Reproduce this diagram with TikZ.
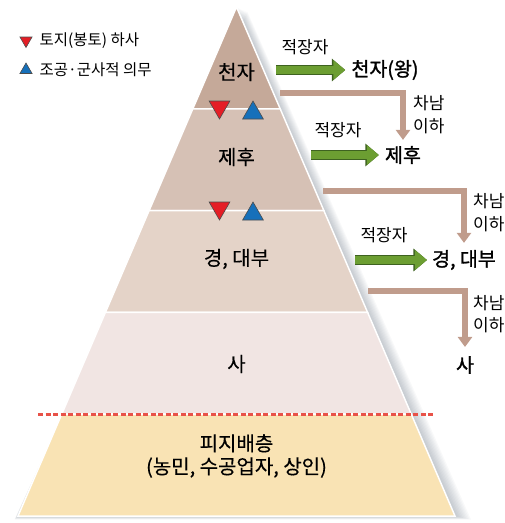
\documentclass[tikz,border=0pt]{standalone}
\usepackage{fontspec}
\setmainfont{Noto Sans CJK KR}
\newfontfamily\krmedium{Noto Sans CJK KR}[FakeBold=0.3]
\newfontfamily\krsemibold{Noto Sans CJK KR}[FakeBold=1.4]
\usetikzlibrary{arrows.meta, calc, positioning, shapes.geometric}

\definecolor{toplayer}{RGB}{197,169,153}
\definecolor{lordlayer}{RGB}{214,193,181}
\definecolor{daebulayer}{RGB}{228,211,200}
\definecolor{salayer}{RGB}{241,229,227}
\definecolor{commonlayer}{RGB}{249,227,180}
\definecolor{heirgreen}{RGB}{108,158,50}
\definecolor{heirdark}{RGB}{62,98,32}
\definecolor{sonbrown}{RGB}{192,156,140}
\definecolor{landred}{RGB}{228,30,38}
\definecolor{dutyblue}{RGB}{22,112,186}
\definecolor{borderred}{RGB}{232,82,72}
\definecolor{shadowgray}{RGB}{80,95,112}

\tikzset{
  every node/.style={inner sep=1pt},
  layer/.style={font=\krmedium\fontsize{20}{23}\selectfont},
  rank/.style={font=\krsemibold\fontsize{19.5}{22}\selectfont},
  heir/.style={font=\fontsize{17}{20}\selectfont},
  sons/.style={font=\fontsize{17}{22.5}\selectfont, align=left, anchor=west},
  legend/.style={font=\fontsize{15.5}{18}\selectfont},
  landmark/.style={regular polygon, regular polygon sides=3, shape border rotate=180,
    fill=landred, draw=black!70, line width=0.6pt, inner sep=0pt, minimum size=24pt},
  dutymark/.style={regular polygon, regular polygon sides=3,
    fill=dutyblue, draw=black!70, line width=0.6pt, inner sep=0pt, minimum size=24pt},
  heirarrow/.style={draw=heirgreen, line width=8pt, -{Triangle[length=12pt,width=19pt]},
    preaction={draw=heirdark, line width=10pt, -{Triangle[length=13.5pt,width=22pt]}}},
  sonarrow/.style={draw=sonbrown, line width=5.5pt, -{Triangle[length=10pt,width=14pt]}}
}

\begin{document}
\begin{tikzpicture}[x=1pt, y=-1pt]
\useasboundingbox (0,0) rectangle (505,523);

% shadow of the pyramid
\foreach \i in {1,...,10}
  \fill[shadowgray, opacity=0.04] ({236.5+\i*1.1},{7+\i*0.5}) -- ({455+\i*1.6},{516+\i*0.35})
    -- ({18-\i*0.35},{516+\i*0.35}) -- cycle;

% layers
\coordinate (apex) at (236.5,7);
\coordinate (bl) at (18,516);
\coordinate (br) at (455,516);
\foreach \t/\c in {0/toplayer,0.2/lordlayer,0.4/daebulayer,0.6/salayer,0.8/commonlayer}
  \fill[\c, draw=white, line width=1.5pt] ($(apex)!\t!(bl)$) -- ($(apex)!\t+0.2!(bl)$)
    -- ($(apex)!\t+0.2!(br)$) -- ($(apex)!\t!(br)$) -- cycle;

\coordinate (d1) at (38,414);
\coordinate (d2) at (435,414);
\draw[borderred, line width=3pt, dash pattern=on 5pt off 2.5pt] (d1) -- (d2);

\node[layer] (cheonja) at (236.5,72) {천자};
\node[layer] (jehu) at (236.5,157) {제후};
\node[layer] (daebu) at (236.5,259) {경, 대부};
\node[layer] (sa) at (236.5,364) {사};
\node[layer, align=center] (piji) at (236.5,456) {피지배층\\(농민, 수공업자, 상인)};

% obligations
\node[landmark] (land1) at (219.5,107) {};
\node[dutymark] (duty1) at (253,113) {};
\node[landmark] (land2) at (219.5,208) {};
\node[dutymark] (duty2) at (253,214) {};

% legend
\node[landmark, minimum size=14pt] (lgland) at (26,40.5) {};
\node[legend, anchor=west, right=8pt of lgland] (lgtext1) {토지(봉토) 하사};
\node[dutymark, minimum size=14pt] (lgduty) at (26,70) {};
\node[legend, anchor=west, right=8pt of lgduty] (lgtext2) {조공·군사적 의무};

% succession
\node[heir] (heir1) at (305,47) {적장자};
\node[rank] (wang) at (385,70) {천자(왕)};
\coordinate (g1) at (276,70);
\draw[heirarrow, shorten >=5pt] (g1) -- (wang.west);

\node[heir] (heir2) at (338,130) {적장자};
\node[rank] (jehuR) at (403,155) {제후};
\coordinate (g2) at (311,155);
\draw[heirarrow, shorten >=5pt] (g2) -- (jehuR.west);

\node[heir] (heir3) at (384,235) {적장자};
\node[rank] (daebuR) at (464,260) {경, 대부};
\coordinate (g3) at (355,260);
\draw[heirarrow, shorten >=4pt] (g3) -- (daebuR.west);

\node[rank] (saR) at (465,365) {사};

\coordinate (s1) at (280,93);
\draw[sonarrow, shorten >=5pt] (s1) -| (jehuR.north);
\node[sons] (sons1) at (412,114.5) {차남\\이하};

\coordinate (s2) at (323,191);
\draw[sonarrow, shorten >=6pt] (s2) -| (daebuR.north);
\node[sons] (sons2) at (472,212.5) {차남\\이하};

\coordinate (s3) at (368,291);
\draw[sonarrow, shorten >=8pt] (s3) -| (saR.north);
\node[sons] (sons3) at (472,314) {차남\\이하};
\end{tikzpicture}
\end{document}
